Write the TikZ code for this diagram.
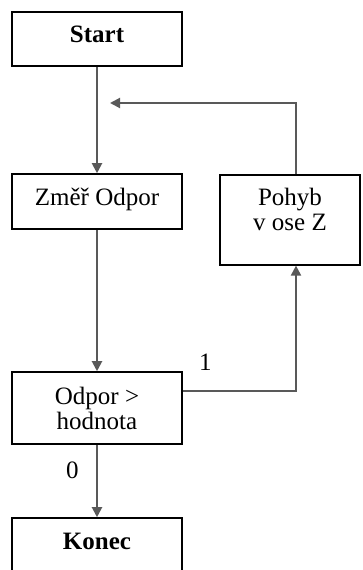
\documentclass[tikz,border=0pt]{standalone}
\usepackage{fontspec}
\setmainfont{Liberation Serif}
\usetikzlibrary{arrows.meta}

\begin{document}
\begin{tikzpicture}[x=1pt,y=-1pt,
    font=\fontsize{25}{25}\selectfont,
    box/.style={draw=black,line width=1.6pt,minimum width=170pt,inner sep=0pt,
      text height=17pt,text depth=10pt},
    flow/.style={draw=black!65,line width=2pt,-{Triangle[length=10pt,width=10pt]}}]
      \useasboundingbox (0,0) rectangle (362,570);
      \node[box,minimum height=54pt,font=\fontsize{25}{25}\selectfont\bfseries] (start) at (97,39) {Start};
      \node[box,minimum height=55pt] (mer) at (97,201.5) {Změř Odpor};
      \node[draw=black,line width=1.6pt,minimum width=140pt,anchor=north,align=center,
        inner xsep=0pt,inner ysep=14pt,text height=42pt,text depth=20pt] (pohyb) at (290,174) {Pohyb\\v ose Z};
      \node[draw=black,line width=1.6pt,minimum width=170pt,minimum height=72pt,align=center] (odpor) at (97,408) {Odpor >\\hodnota};
      \node[box,minimum height=56pt,font=\fontsize{25}{25}\selectfont\bfseries] (konec) at (97,546) {Konec};
      \coordinate (zpet) at (110,103);
      % spojnice
      \draw[flow] (start) -- (mer);
      \draw[flow] (mer) -- (odpor);
      \draw[flow] (odpor) -- node[pos=.35,left=14pt]{0} (konec);
      \draw[flow] ([yshift=17pt]odpor.east) -| node[pos=.1,above=16pt]{1} ([xshift=6pt]pohyb.south);
      \draw[flow] ([xshift=6pt]pohyb.north) |- (zpet);
    \end{tikzpicture}
\end{document}
